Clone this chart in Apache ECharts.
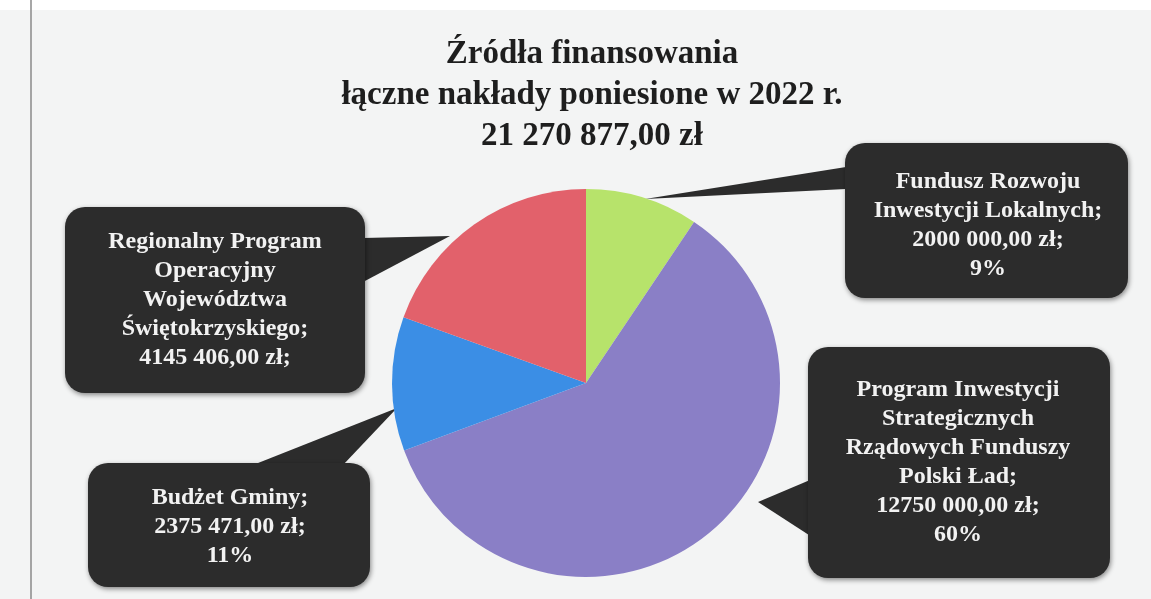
<!DOCTYPE html>
<html>
<head>
<meta charset="utf-8">
<script src="https://cdn.jsdelivr.net/npm/echarts@6/dist/echarts.min.js"></script>
<style>
	html, body { margin: 0; padding: 0; background: #f3f4f4; }
	#chart { width: 1151px; height: 599px; }
</style>
</head>
<body>
<div id="chart"></div>
<script>
//źródła finansowania - dane
var titleLines = ['Źródła finansowania', 'łączne nakłady poniesione w 2022 r.', '21 270 877,00 zł'];
var sourceNames = [
	['Fundusz Rozwoju', 'Inwestycji Lokalnych;'],
	['Program Inwestycji', 'Strategicznych', 'Rządowych Funduszy', 'Polski Ład;'],
	['Budżet Gminy;'],
	['Regionalny Program', 'Operacyjny', 'Województwa', 'Świętokrzyskiego;']
];
var sourceValues = [2000000, 12750000, 2375471, 4145406];
var showPercent = [true, true, true, false];
var sliceColors = ['#b7e36b', '#8a7fc6', '#3b8ee5', '#e2616b'];

//położenie dymków (środek tekstu)
var labelPos = [[988, 225], [958, 462], [230, 527], [215, 300]];

var total = 0;
for(var i = 0; i < sourceValues.length; i++) {
	total += sourceValues[i];
}

function money(v) {
	var s = String(v);
	return s.slice(0, -3) + ' ' + s.slice(-3) + ',00 zł;';
}

var pieData = [];
for(var i = 0; i < sourceValues.length; i++) {
	var lines = sourceNames[i].slice();
	lines.push(money(sourceValues[i]));
	if(showPercent[i]) {
		lines.push(Math.round(sourceValues[i] / total * 100) + '%');
	}
	pieData.push({
		name: sourceNames[i].join(' '),
		value: sourceValues[i],
		itemStyle: { color: sliceColors[i] },
		label: { formatter: lines.join('\n') }
	});
}

//dymki - tło i "ogonki"
var boxStyle = {
	fill: '#2c2c2c',
	shadowBlur: 5,
	shadowOffsetX: 1,
	shadowOffsetY: 2,
	shadowColor: 'rgba(0,0,0,0.45)'
};
var boxes = [
	{ x: 845, y: 143, w: 283, h: 155, tail: [[846, 167], [645, 199], [846, 189]] },
	{ x: 808, y: 347, w: 302, h: 231, tail: [[810, 480], [758, 502], [812, 537]] },
	{ x: 88, y: 463, w: 282, h: 124, tail: [[253, 465], [397, 408], [343, 465]] },
	{ x: 65, y: 207, w: 300, h: 186, tail: [[363, 238], [450, 236], [363, 282]] }
];
var graphics = [
	{ type: 'rect', shape: { x: 0, y: 0, width: 1151, height: 10 }, style: { fill: '#ffffff' }, z: -10 },
	{ type: 'line', shape: { x1: 31, y1: 0, x2: 31, y2: 599 }, style: { stroke: '#8a8a8a', lineWidth: 1.5 }, z: -9 }
];
boxes.forEach(function(b) {
	graphics.push({
		type: 'polygon',
		shape: { points: b.tail },
		style: { fill: '#2c2c2c' },
		z: -2
	});
	graphics.push({
		type: 'rect',
		shape: { x: b.x, y: b.y, width: b.w, height: b.h, r: 20 },
		style: boxStyle,
		z: -1
	});
});

var myChart = echarts.init(document.getElementById('chart'));
var option = {
	backgroundColor: '#f3f4f4',
	animation: false,
	title: {
		text: titleLines.join('\n'),
		left: 587,
		top: 29,
		textAlign: 'center',
		textStyle: {
			fontFamily: 'Liberation Serif',
			fontWeight: 'bold',
			fontSize: 33,
			lineHeight: 41,
			color: '#1e1e1e'
		}
	},
	graphic: { elements: graphics },
	series: [{
		type: 'pie',
		center: [586, 383],
		radius: [0, 194],
		startAngle: 90,
		clockwise: true,
		silent: true,
		data: pieData,
		itemStyle: { borderWidth: 0 },
		label: {
			show: true,
			position: 'outside',
			color: '#f2f2f2',
			fontFamily: 'Liberation Serif',
			fontWeight: 'bold',
			fontSize: 24,
			lineHeight: 29,
			align: 'center'
		},
		labelLine: { show: false },
		labelLayout: function(params) {
			var p = labelPos[params.dataIndex];
			return { x: p[0], y: p[1], align: 'center', verticalAlign: 'middle' };
		}
	}]
};
myChart.setOption(option);
</script>
</body>
</html>
